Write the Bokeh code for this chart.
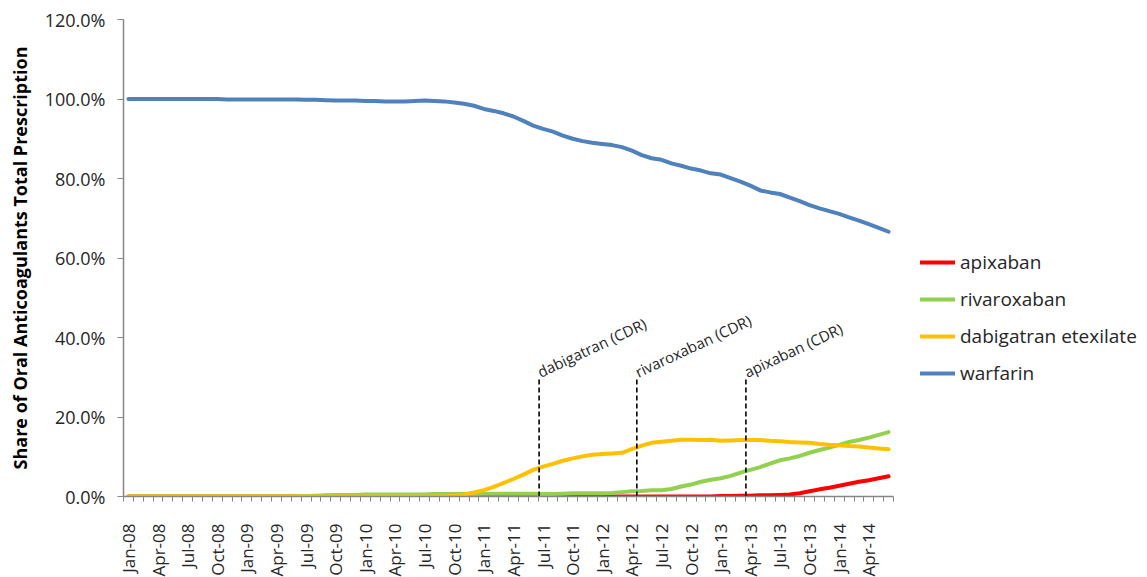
from bokeh.plotting import figure
from bokeh.models import (Range1d, FixedTicker, PrintfTickFormatter, Legend,
                          LegendItem, ColumnDataSource)
from bokeh.core.properties import value
from bokeh.embed import file_html
from bokeh.resources import INLINE
import math

# Monthly series, Jan-08 .. Jun-14 (share of oral anticoagulant prescriptions, %)
months = []
for yr in range(8, 15):
    for m in ["Jan", "Feb", "Mar", "Apr", "May", "Jun", "Jul", "Aug", "Sep", "Oct", "Nov", "Dec"]:
        months.append(f"{m}-{yr:02d}")
months = months[:78]

warfarin = [
    100.0, 100.0, 100.0, 100.0, 100.0, 100.0, 100.0, 100.0, 100.0, 100.0, 99.9, 99.9,
    99.9, 99.9, 99.9, 99.9, 99.9, 99.9, 99.8, 99.8, 99.7, 99.6, 99.6, 99.6,
    99.5, 99.5, 99.4, 99.4, 99.4, 99.5, 99.6, 99.5, 99.4, 99.1, 98.8, 98.3,
    97.5, 97.0, 96.4, 95.6, 94.5, 93.3, 92.5, 91.8, 90.8, 90.0, 89.4, 89.0,
    88.7, 88.4, 87.9, 87.0, 85.9, 85.1, 84.7, 83.8, 83.2, 82.5, 82.0, 81.3,
    81.0, 80.1, 79.2, 78.2, 77.0, 76.5, 76.1, 75.2, 74.3, 73.3, 72.5, 71.8,
    71.1, 70.2, 69.4, 68.5, 67.6, 66.6,
]
dabigatran = [
    0.0] * 33 + [
    0.2, 0.5, 1.0, 1.6, 2.4, 3.4, 4.4, 5.5, 6.7, 7.5, 8.2, 9.0,
    9.6, 10.1, 10.5, 10.7, 10.8, 11.0, 11.9, 12.8, 13.5, 13.8, 14.0, 14.3,
    14.3, 14.2, 14.3, 14.0, 14.1, 14.2, 14.2, 14.2, 14.0, 13.9, 13.7, 13.6,
    13.5, 13.2, 13.0, 12.9, 12.7, 12.6, 12.3, 12.1, 11.9,
]
rivaroxaban = [
    0.0] * 18 + [
    0.1, 0.2, 0.3, 0.4, 0.4, 0.4, 0.5, 0.5, 0.5, 0.5, 0.5, 0.5,
    0.5, 0.6, 0.6, 0.6, 0.6, 0.6, 0.7, 0.7, 0.7, 0.7, 0.7, 0.7,
    0.6, 0.6, 0.7, 0.8, 0.8, 0.8, 0.8, 0.9, 1.1, 1.3, 1.4, 1.6,
    1.6, 1.9, 2.5, 3.0, 3.7, 4.2, 4.6, 5.2, 6.0, 6.7, 7.4, 8.3,
    9.1, 9.6, 10.2, 11.0, 11.7, 12.3, 13.0, 13.7, 14.2, 14.8, 15.5, 16.2,
]
apixaban = [
    0.0] * 60 + [
    0.1, 0.1, 0.2, 0.2, 0.3, 0.3, 0.4, 0.5, 0.8, 1.3, 1.8, 2.2,
    2.7, 3.2, 3.7, 4.1, 4.6, 5.1,
]

# CDR recommendation markers (month index on the category axis)
cdr_labels = ["dabigatran (CDR)", "rivaroxaban (CDR)", "apixaban (CDR)"]
cdr_pos = [41.6, 51.5, 62.55]
cdr_top = 30.0

y_ticks = [0, 20, 40, 60, 80, 100, 120]

FONT = "Open Sans"
TXT = "#262626"
AXIS = "#868686"

x = list(range(len(months)))

p = figure(frame_width=770, frame_height=477, output_backend="svg", toolbar_location=None,
           x_range=Range1d(-0.5, len(months) - 0.5), y_range=Range1d(0, 120),
           min_border_left=123, min_border_right=0, min_border_top=19,
           min_border_bottom=81, outline_line_color=None)
p.xgrid.visible = False
p.ygrid.visible = False

series = [
    ("apixaban", apixaban, "#FF0000"),
    ("rivaroxaban", rivaroxaban, "#92D050"),
    ("dabigatran etexilate", dabigatran, "#FFC000"),
    ("warfarin", warfarin, "#4F81BD"),
]
items = []
for name, vals, col in series:
    r = p.line(x, vals, line_color=col, line_width=4, line_join="round", line_cap="round")
    items.append(LegendItem(label=name, renderers=[r]))

# dashed markers and their rotated labels
for xp in cdr_pos:
    p.segment(x0=[xp], y0=[0], x1=[xp], y1=[cdr_top], line_color="black",
              line_width=1.6, line_dash="5 3")
src = ColumnDataSource(dict(x=[v - 0.1 for v in cdr_pos], y=[31.2] * 3, t=cdr_labels))
p.text(x="x", y="y", text="t", source=src, angle=math.radians(25),
       text_font=value(FONT), text_font_size="15px", text_color=TXT,
       text_baseline="alphabetic", text_align="left")

# x axis: month ticks between categories, labels every quarter
xa = p.xaxis[0]
xa.ticker = FixedTicker(ticks=x[::3], minor_ticks=[i - 0.5 for i in range(len(months) + 1)])
xa.major_label_overrides = {i: months[i] for i in x[::3]}
xa.major_label_orientation = math.pi / 2
xa.major_tick_line_color = None
xa.major_tick_out = 0
xa.major_tick_in = 0
xa.minor_tick_out = 5
xa.minor_tick_in = 0
xa.minor_tick_line_color = AXIS
xa.axis_line_color = AXIS
xa.axis_line_width = 1.5
xa.major_label_standoff = 22
xa.major_label_text_font = FONT
xa.major_label_text_font_size = "17px"
xa.major_label_text_color = TXT

ya = p.yaxis[0]
ya.ticker = FixedTicker(ticks=y_ticks)
ya.formatter = PrintfTickFormatter(format="%.1f%%")
ya.minor_tick_line_color = None
ya.major_tick_out = 6
ya.major_tick_in = 0
ya.major_tick_line_color = AXIS
ya.axis_line_color = AXIS
ya.axis_line_width = 1.5
ya.major_label_standoff = 12
ya.major_label_text_font = FONT
ya.major_label_text_font_size = "18px"
ya.major_label_text_color = TXT
ya.axis_label = "Share of Oral Anticoagulants Total Prescription"
ya.axis_label_text_font = FONT
ya.axis_label_text_font_style = "bold"
ya.axis_label_text_font_size = "18px"
ya.axis_label_text_color = "#000000"
ya.axis_label_standoff = 10

legend = Legend(items=items, location=(27, 110), glyph_width=35, glyph_height=20,
                spacing=11, padding=0, margin=0, label_standoff=5,
                label_text_font=FONT, label_text_font_size="19px",
                label_text_color=TXT, border_line_color=None,
                background_fill_alpha=0)
p.add_layout(legend, "right")

open("out.html", "w").write(file_html(p, INLINE))
